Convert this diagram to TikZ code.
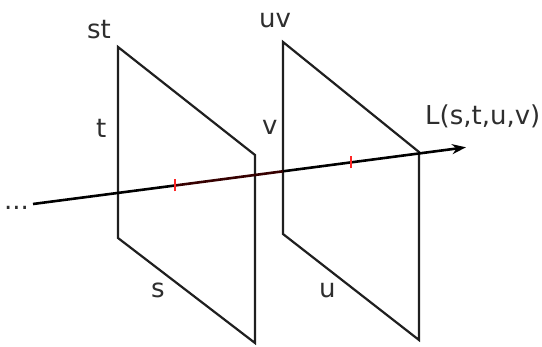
\documentclass[tikz,border=0pt]{standalone}
\usepackage{fontspec}
\setmainfont{DejaVu Sans}
\usetikzlibrary{arrows.meta}
\begin{document}
\begin{tikzpicture}[x=1pt,y=-1pt,
  plane/.style={draw=black!88, line width=2.2pt, line join=miter},
  ray/.style={draw=black, line width=2.6pt},
  lbl/.style={anchor=base west, inner sep=0pt, text=black!82, font=\fontsize{26}{26}\selectfont},
  redtick/.style={draw=red!85, line width=1.6pt}]
\useasboundingbox (0,0) rectangle (542,347);
% plane st
\coordinate (p1a) at (118,47);
\coordinate (p1b) at (118,238);
\coordinate (p1c) at (255,343);
\coordinate (p1d) at (255,155);
% plane uv
\coordinate (p2a) at (283,42);
\coordinate (p2b) at (283,234);
\coordinate (p2c) at (419,340);
\coordinate (p2d) at (419,152);
\path[plane] (p1a) -- (p1b) -- (p1c) -- (p1d) -- cycle;
\path[plane] (p2a) -- (p2b) -- (p2c) -- (p2d) -- cycle;
% ray
\coordinate (r0) at (33,204);
\coordinate (r1) at (175,185.5);
\coordinate (r2) at (255,175);
\coordinate (r3) at (283,171.3);
\coordinate (r4) at (466,147.3);
\draw[ray] (r0) -- (r1);
\draw[ray, draw=black!65!red!60!black] (r1) -- (r3);
\draw[ray, -{Stealth[length=14pt,width=10pt]}] (r3) -- (r4);
\coordinate (m2) at (351,162.4);
\draw[redtick] ([yshift=-6pt]r1) -- ([yshift=6pt]r1);
\draw[redtick] ([yshift=-6pt]m2) -- ([yshift=6pt]m2);
% labels
\node[lbl] (dots) at (4,210) {...};
\node[lbl] (st) at (87,39) {st};
\node[lbl] (t) at (96,138) {t};
\node[lbl] (s) at (151,298) {s};
\node[lbl] (uv) at (259,28) {uv};
\node[lbl] (v) at (262,135) {v};
\node[lbl] (u) at (319,298) {u};
\node[lbl] (L) at (425,125) {L(s,t,u,v)};
\end{tikzpicture}
\end{document}
